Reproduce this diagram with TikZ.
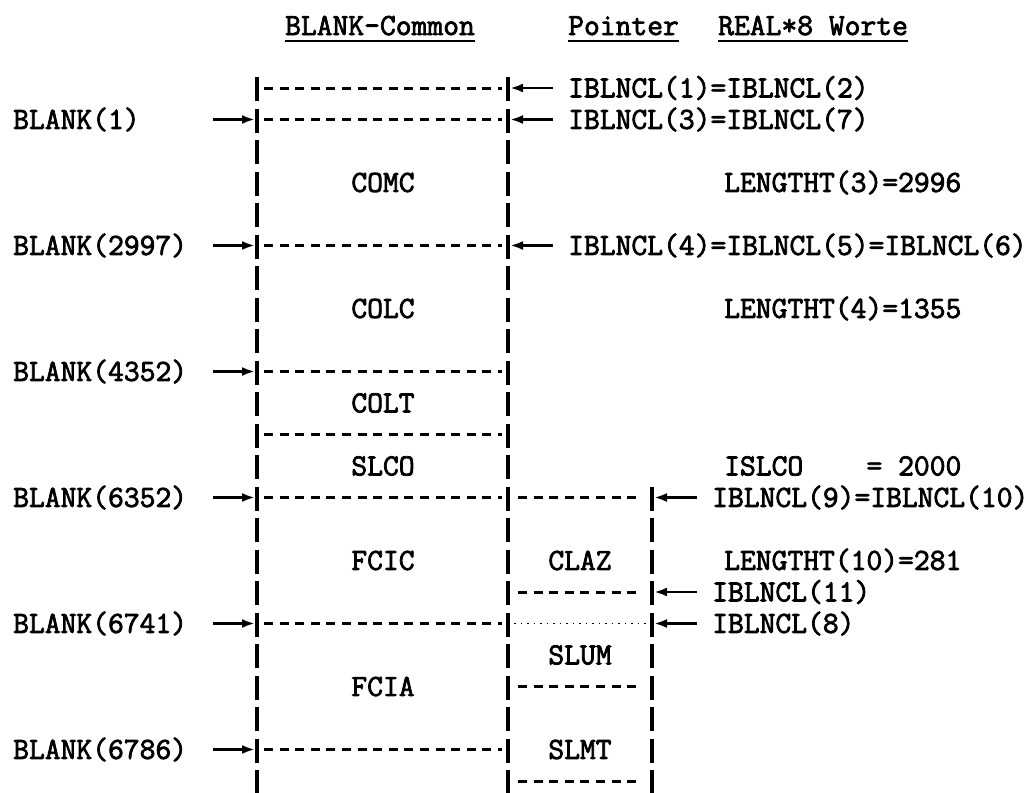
\documentclass[tikz,border=0pt]{standalone}
\usepackage{fontspec}
\setmonofont{Latin Modern Mono}[AutoFakeBold=2.5]
\usepackage{tikz}
\usetikzlibrary{positioning}
\usetikzlibrary{arrows.meta}
\tikzstyle{typed}=[font=\ttfamily\bfseries\fontsize{30.7}{35}\selectfont,inner sep=0pt]
\tikzstyle{wall}=[draw,line width=3.5pt,dash pattern=on 24pt off 7.5pt]
\tikzstyle{divider}=[draw,line width=3pt,dash pattern=on 9pt off 6.6pt]
\tikzstyle{dotrow}=[draw,line width=1.4pt,dash pattern=on 1.5pt off 5pt]
\tikzstyle{ptr}=[draw,line width=2.6pt,-{Latex[length=13pt,width=9pt]}]
\tikzstyle{uline}=[draw,line width=2pt]

\begin{document}
\begin{tikzpicture}[x=1pt,y=-1pt]

  \useasboundingbox (0,0) rectangle (1029,793);

  \def\ytop{88};
  \def\lh{31.5};
  \def\xl{257};
  \def\xm{508};
  \def\xr{652};

  % headings
  \node[typed,anchor=base] (tblank) at (380,35) {BLANK-Common};
  \node[typed,anchor=base west] (tptr) at (568,35) {Pointer};
  \node[typed,anchor=base west] (treal) at (718,35) {REAL*8 Worte};
  \foreach \t in {tblank,tptr,treal}
         \draw[uline] ([yshift=-6pt]\t.base west) -- ([yshift=-6pt]\t.base east);

  % columns
  \draw[wall] (\xl,\ytop-11) -- (\xl,793);
  \draw[wall] (\xm,\ytop-11) -- (\xm,793);
  \draw[wall] (\xr,\ytop+13*\lh-11) -- (\xr,793);

  \foreach \row in {0,1,5,9,11,13,17,21}
         \draw[divider] (264,\ytop+\row*\lh) -- (502,\ytop+\row*\lh);

  \foreach \row in {13,16,19,22}
         \draw[divider] (518,\ytop+\row*\lh) -- (642,\ytop+\row*\lh);

  \draw[dotrow] (514,\ytop+17*\lh) -- (648,\ytop+17*\lh);

  % blocks
  \foreach \x/\row/\name/\txt in {383/3/comc/COMC, 383/7/colc/COLC, 383/10/colt/COLT, 383/12/slco/SLCO, 383/15/fcic/FCIC, 383/19/fcia/FCIA, 580/15/claz/CLAZ, 580/18/slum/SLUM, 580/21/slmt/SLMT}
          \node[typed] (\name) at (\x,\ytop+\row*\lh) {\txt};

  % BLANK addresses
  \foreach \row/\name/\txt in {1/b1/BLANK(1), 5/b2997/BLANK(2997), 9/b4352/BLANK(4352), 13/b6352/BLANK(6352), 17/b6741/BLANK(6741), 21/b6786/BLANK(6786)}
  {
          \node[typed,anchor=west] (\name) at (13,\ytop+\row*\lh) {\txt};
          \coordinate (\name-tail) at (213,\ytop+\row*\lh);
          \coordinate (\name-tip) at (\xl-2,\ytop+\row*\lh);
          \draw[ptr] (\name-tail) -- (\name-tip);
  }

  % pointers
  \foreach \row/\vx/\name/\txt in {0/\xm/p1/{IBLNCL(1)=IBLNCL(2)}, 1/\xm/p3/{IBLNCL(3)=IBLNCL(7)}, 5/\xm/p4/{IBLNCL(4)=IBLNCL(5)=IBLNCL(6)}, 13/\xr/p9/{IBLNCL(9)=IBLNCL(10)}, 16/\xr/p11/{IBLNCL(11)}, 17/\xr/p8/{IBLNCL(8)}}
  {
          \node[typed,anchor=west] (\name) at (\vx+60,\ytop+\row*\lh) {\txt};
          \coordinate (\name-tail) at (\vx+45,\ytop+\row*\lh);
          \coordinate (\name-tip) at (\vx+2,\ytop+\row*\lh);
          \draw[ptr] (\name-tail) -- (\name-tip);
  }

  % lengths
  \foreach \row/\name/\txt in {3/len3/{LENGTHT(3)=2996}, 7/len4/{LENGTHT(4)=1355}, 12/islco/{ISLCO\phantom{0000}= 2000}, 15/len10/{LENGTHT(10)=281}}
          \node[typed,anchor=west] (\name) at (724,\ytop+\row*\lh) {\txt};

\end{tikzpicture}
\end{document}
